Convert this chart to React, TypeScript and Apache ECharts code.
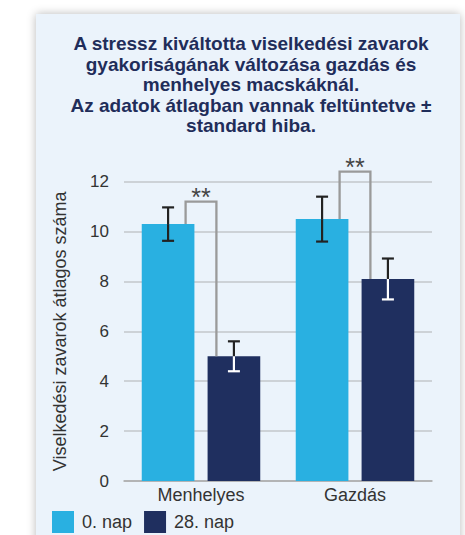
import React, { useEffect, useRef } from "react";
import * as echarts from "echarts";

const categories = ["Menhelyes", "Gazdás"];
const seriesNames = ["0. nap", "28. nap"];
const day0 = [10.3, 10.5];
const day28 = [5.0, 8.1];
const day0Err = [0.67, 0.9];
const day28Err = [0.6, 0.82];
const bracketTops = [11.2, 12.4];
const sigLabels = ["**", "**"];
const titleLines = [
  "A stressz kiváltotta viselkedési zavarok",
  "gyakoriságának változása gazdás és",
  "menhelyes macskáknál.",
  "Az adatok átlagban vannak feltüntetve ±",
  "standard hiba.",
];
const yAxisName = "Viselkedési zavarok átlagos száma";

const LIGHT = "#29b0e1";
const DARK = "#1f2f5f";
const FONT = "'Liberation Sans', Arial, sans-serif";
const BAR_FRAC = 0.342;
const GAP_FRAC = 0.25;

function errRender(side: number, whiteInside: boolean) {
  return (params: any, api: any) => {
    const cat = api.value(0);
    const v = api.value(1);
    const e = api.value(2);
    const band = api.size([1, 0])[0];
    const barW = band * BAR_FRAC;
    const off = side * (barW * (1 + GAP_FRAC)) / 2;
    const c = api.coord([cat, v]);
    const x = c[0] + off;
    const yv = c[1];
    const yt = api.coord([cat, v + e])[1];
    const yb = api.coord([cat, v - e])[1];
    const cap = 6;
    const black = "#222222";
    const lower = whiteInside ? "#ffffff" : black;
    const lw = 2.2;
    return {
      type: "group",
      children: [
        { type: "line", shape: { x1: x, y1: yt, x2: x, y2: yv }, style: { stroke: black, lineWidth: lw } },
        { type: "line", shape: { x1: x, y1: yv, x2: x, y2: yb }, style: { stroke: lower, lineWidth: lw } },
        { type: "line", shape: { x1: x - cap, y1: yt, x2: x + cap, y2: yt }, style: { stroke: black, lineWidth: lw } },
        { type: "line", shape: { x1: x - cap, y1: yb, x2: x + cap, y2: yb }, style: { stroke: lower, lineWidth: lw } },
      ],
    };
  };
}

function bracketRender(params: any, api: any) {
  const cat = api.value(0);
  const v0 = api.value(1);
  const v1 = api.value(2);
  const top = api.value(3);
  const band = api.size([1, 0])[0];
  const half = band * 0.1;
  const cx = api.coord([cat, 0])[0];
  const y0 = api.coord([cat, v0])[1];
  const y1 = api.coord([cat, v1])[1];
  const yt = api.coord([cat, top])[1];
  return {
    type: "group",
    children: [
      {
        type: "polyline",
        shape: { points: [[cx - half, y0], [cx - half, yt], [cx + half, yt], [cx + half, y1]] },
        style: { stroke: "#9a9a9a", lineWidth: 2.3, fill: null },
      },
      {
        type: "text",
        x: cx,
        y: yt - 4.5,
        style: {
          text: sigLabels[params.dataIndex],
          fontSize: 25,
          fontFamily: FONT,
          fill: "#444444",
          align: "center",
          verticalAlign: "middle",
        },
      },
    ],
  };
}

export default function App() {
  const ref = useRef<HTMLDivElement>(null);
  useEffect(() => {
    if (!ref.current) return;
    const chart = echarts.init(ref.current, null, { renderer: "svg" });
    chart.setOption({
      animation: false,
      backgroundColor: "transparent",
      graphic: [
        {
          type: "text",
          x: 251,
          y: 33.5,
          style: {
            text: titleLines.join("\n"),
            fontSize: 19,
            fontWeight: "bold",
            fontFamily: FONT,
            fill: "#1f2d5a",
            align: "center",
            verticalAlign: "top",
            lineHeight: 20.5,
          },
        },
      ],
      legend: {
        data: seriesNames,
        left: 52,
        top: 511,
        padding: 0,
        itemWidth: 22,
        itemHeight: 22,
        itemGap: 12,
        icon: "rect",
        textStyle: { fontSize: 18, fontFamily: FONT, color: "#333333", padding: [0, 0, 0, 3] },
      },
      grid: { left: 124, right: 33, top: 181.7, bottom: 54, containLabel: false },
      xAxis: {
        type: "category",
        data: categories,
        axisLine: { lineStyle: { color: "#aaaaaa", width: 1.5 } },
        axisTick: { show: false },
        axisLabel: { fontSize: 18, fontFamily: FONT, color: "#333333", margin: 5 },
      },
      yAxis: {
        type: "value",
        min: 0,
        max: 12,
        interval: 2,
        name: yAxisName,
        nameLocation: "middle",
        nameGap: 55,
        nameTextStyle: { fontSize: 18, fontFamily: FONT, color: "#333333" },
        axisLine: { show: false },
        axisTick: { show: false },
        axisLabel: { fontSize: 17, fontFamily: FONT, color: "#333333", margin: 15 },
        splitLine: { lineStyle: { color: "#c3c7cb", width: 1.5 } },
      },
      series: [
        {
          name: seriesNames[0],
          type: "bar",
          data: day0,
          barWidth: BAR_FRAC * 100 + "%",
          barGap: GAP_FRAC * 100 + "%",
          itemStyle: { color: LIGHT },
        },
        {
          name: seriesNames[1],
          type: "bar",
          data: day28,
          barWidth: BAR_FRAC * 100 + "%",
          barGap: GAP_FRAC * 100 + "%",
          itemStyle: { color: DARK },
        },
        {
          name: "err0",
          type: "custom",
          clip: false,
          z: 5,
          renderItem: errRender(-1, false),
          encode: { x: 0, y: 1 },
          data: day0.map((v, i) => [i, v, day0Err[i]]),
        },
        {
          name: "err28",
          type: "custom",
          clip: false,
          z: 5,
          renderItem: errRender(1, true),
          encode: { x: 0, y: 1 },
          data: day28.map((v, i) => [i, v, day28Err[i]]),
        },
        {
          name: "sig",
          type: "custom",
          clip: false,
          z: 4,
          renderItem: bracketRender,
          encode: { x: 0, y: 3 },
          data: categories.map((_, i) => [i, day0[i], day28[i], bracketTops[i]]),
        },
      ],
    });
    return () => chart.dispose();
  }, []);

  return (
    <div style={{ position: "fixed", left: 0, top: 0, width: 465, height: 535, overflow: "hidden", background: "#ffffff" }}>
      <div
        style={{
          position: "absolute",
          left: 36,
          top: 14,
          width: 424,
          height: 540,
          background: "#ebf3fb",
          boxShadow: "0 0 9px rgba(0,0,0,0.28)",
        }}
      />
      <div ref={ref} style={{ position: "absolute", left: 0, top: 0, width: 465, height: 535 }} />
    </div>
  );
}
